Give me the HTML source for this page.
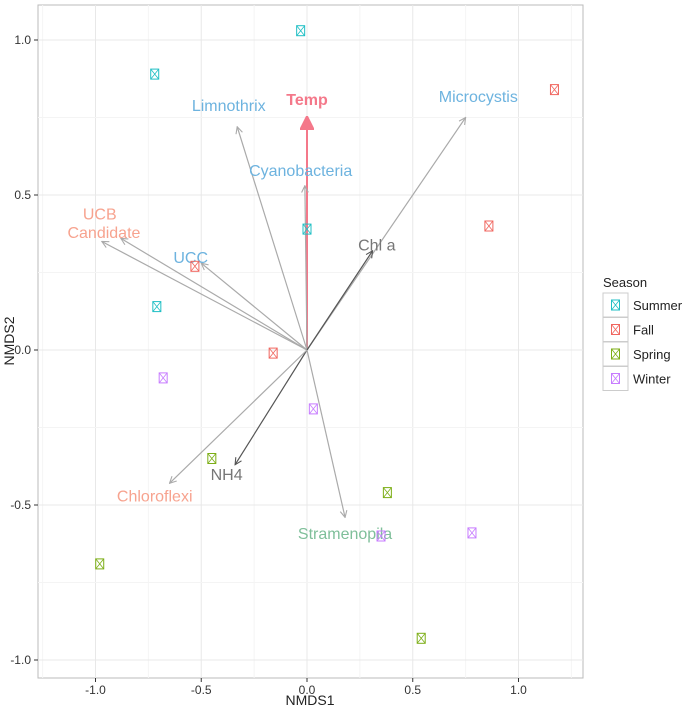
<!DOCTYPE html>
<html><head><meta charset="utf-8"><style>
body{margin:0;background:#fff;font-family:"Liberation Sans",sans-serif}
svg text{font-family:"Liberation Sans","DejaVu Sans",sans-serif}
</style></head><body>
<svg id="c" width="685" height="710"></svg>
<script>
const seasons=["Summer","Fall","Spring","Winter"];
const seasonColors=["#1fbfc4","#f0665f","#7cae16","#c77cff"];
const ptX=[-0.03,-0.72,0.00,-0.71, 1.17,0.86,-0.53,-0.16, -0.45,0.38,-0.98,0.54, -0.68,0.03,0.35,0.78];
const ptY=[1.03,0.89,0.39,0.14, 0.84,0.40,0.27,-0.01, -0.35,-0.46,-0.69,-0.93, -0.09,-0.19,-0.60,-0.59];
const ptS=[0,0,0,0,1,1,1,1,2,2,2,2,3,3,3,3];
const vecNames=["Temp","Limnothrix","Microcystis","Cyanobacteria","UCB","Candidate","UCC","Chl a","NH4","Chloroflexi","Stramenopila"];
const vecX=[0.00,-0.33,0.75,-0.01,-0.88,-0.97,-0.50,0.31,-0.34,-0.65,0.18];
const vecY=[0.75,0.72,0.75,0.53,0.36,0.35,0.28,0.32,-0.37,-0.43,-0.54];
const labX=[0.00,-0.37,0.81,-0.03,-0.98,-0.96,-0.55,0.33,-0.38,-0.72,0.18];
const labY=[0.81,0.79,0.82,0.58,0.44,0.38,0.30,0.34,-0.40,-0.47,-0.59];
const vecCol=["#f4788a","#6db3df","#6db3df","#6db3df","#f7a38f","#f7a38f","#6db3df","#777","#777","#f7a38f","#7fbf9a"];
const xTicks=[-1.0,-0.5,0.0,0.5,1.0];
const yTicks=[-1.0,-0.5,0.0,0.5,1.0];
const X=v=>307+v*211.5, Y=v=>350-v*310;
const L=38,T=5,R=583,B=678;
const svg=document.getElementById('c');const NS="http://www.w3.org/2000/svg";
function mk(t,a,p){const e=document.createElementNS(NS,t);for(const k in a)e.setAttribute(k,a[k]);(p||svg).appendChild(e);return e;}
const defs=mk('defs',{});
["g","d","p"].forEach((id,i)=>{const m=mk('marker',{id:'m'+id,viewBox:'0 0 10 10',refX:9,refY:5,markerWidth:7,markerHeight:7,orient:'auto'},defs);
mk('path',{d:i==2?'M0,0 L10,5 L0,10 z':'M1,1 L9,5 L1,9',fill:i==2?'#f4788a':'none',stroke:['#aaa','#555','#f4788a'][i],'stroke-width':1.3},m);});
const panel=mk('rect',{x:L,y:T,width:R-L,height:B-T,fill:'#fff',stroke:'#bbb'});

for(let v=-1.25;v<=1.3;v+=0.25){const g=mk('line',{x1:X(v),x2:X(v),y1:T,y2:B,stroke:Math.abs(v*2-Math.round(v*2))<0.01?'#e8e8e8':'#f4f4f4'});}
for(let v=-1.25;v<=1.1;v+=0.25){const y=Y(v);if(y<T||y>B)continue;const g=mk('line',{x1:L,x2:R,y1:y,y2:y,stroke:Math.abs(v*2-Math.round(v*2))<0.01?'#e8e8e8':'#f4f4f4'});}
xTicks.forEach(v=>{mk('line',{x1:X(v),x2:X(v),y1:B,y2:B+4,stroke:'#333'});const t=mk('text',{x:X(v),y:B+16,'text-anchor':'middle','font-size':12,fill:'#333'});t.textContent=v.toFixed(1);});
yTicks.forEach(v=>{mk('line',{x1:L-4,x2:L,y1:Y(v),y2:Y(v),stroke:'#333'});const t=mk('text',{x:L-7,y:Y(v)+4,'text-anchor':'end','font-size':12,fill:'#333'});t.textContent=v.toFixed(1);});
let t=mk('text',{x:310,y:705,'text-anchor':'middle','font-size':14,fill:'#222'});t.textContent='NMDS1';
t=mk('text',{x:14,y:341,'text-anchor':'middle','font-size':14,fill:'#222',transform:'rotate(-90 14 341)'});t.textContent='NMDS2';
vecNames.forEach((n,i)=>{const temp=i==0,dark=(n=="Chl a"||n=="NH4");
const a=mk('line',{x1:X(0),y1:Y(0),x2:X(vecX[i]),y2:Y(vecY[i]),stroke:temp?'#f4788a':dark?'#555':'#aaa','stroke-width':temp?2:1.2,'marker-end':'url(#m'+(temp?'p':dark?'d':'g')+')'});
});
vecNames.forEach((n,i)=>{const l=mk('text',{x:X(labX[i]),y:Y(labY[i])+6,'text-anchor':'middle','font-size':16,fill:vecCol[i],'font-weight':i==0?'bold':'normal'});l.textContent=n;
});
function marker(cx,cy,c,p,s){const g=mk('g',{},p);mk('rect',{x:cx-4,y:cy-5,width:8,height:10,fill:'none',stroke:c,'stroke-width':1},g);
mk('path',{d:`M${cx-4},${cy-5}L${cx+4},${cy+5}M${cx+4},${cy-5}L${cx-4},${cy+5}`,stroke:c,'stroke-width':0.8},g);return g;}
ptX.forEach((v,i)=>{const g=marker(X(v),Y(ptY[i]),seasonColors[ptS[i]]);});
const lg=mk('g',{});
t=mk('text',{x:603,y:287,'font-size':13,fill:'#222'},lg);t.textContent='Season';
seasons.forEach((s,i)=>{const y=293+i*24.5;const e=mk('g',{},lg);
mk('rect',{x:603,y:y,width:25,height:24,fill:'#fff',stroke:'#ccc'},e);marker(615.5,y+12,seasonColors[i],e);
const tx=mk('text',{x:633,y:y+17,'font-size':13,fill:'#222'},e);tx.textContent=s;});
</script>
</body></html>
